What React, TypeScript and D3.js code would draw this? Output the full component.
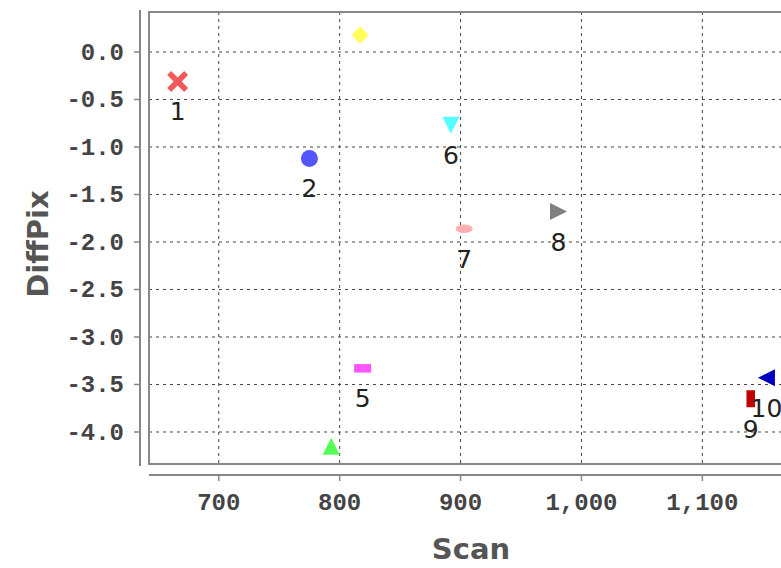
import React from "react";
import * as d3 from "d3";

const seriesLabels = ["1", "2", "3", "4", "5", "6", "7", "8", "9", "10"];
const scanValues = [666, 775, 793, 817, 819, 892, 903, 981, 1140, 1153];
const diffPixValues = [-0.31, -1.12, -4.15, 0.18, -3.33, -0.77, -1.86, -1.68, -3.65, -3.43];
const seriesColors = ["#F25A5A", "#5555FF", "#55FF55", "#FFFF55", "#FF55FF", "#55FFFF", "#FFAFAF", "#808080", "#C00000", "#0000C0"];
const seriesShapes = ["cross", "circle", "up", "diamond", "hrect", "down", "hellipse", "right", "vrect", "left"];
const xTicks = [700, 800, 900, 1000, 1100];
const yTicks = [0, -0.5, -1, -1.5, -2, -2.5, -3, -3.5, -4];

const W = 781;
const H = 568;
const PL = 149, PT = 12, PB = 464, PR = 787;

function shapePath(kind: string, s: number): string {
  const h = s / 2;
  switch (kind) {
    case "cross": {
      const p = d3.path();
      const a = 10.5, t = 4;
      const pts: [number, number][] = [
        [-a, -a + t], [-a + t, -a], [0, -t], [a - t, -a], [a, -a + t], [t, 0],
        [a, a - t], [a - t, a], [0, t], [-a + t, a], [-a, a - t], [-t, 0],
      ];
      pts.forEach((q, i) => (i ? p.lineTo(q[0], q[1]) : p.moveTo(q[0], q[1])));
      p.closePath();
      return p.toString();
    }
    case "circle":
      return d3.symbol(d3.symbolCircle, Math.PI * h * h)() as string;
    case "up":
      return `M0,${-h}L${h},${h}L${-h},${h}Z`;
    case "down":
      return `M0,${h}L${h},${-h}L${-h},${-h}Z`;
    case "right":
      return `M${h},0L${-h},${-h}L${-h},${h}Z`;
    case "left":
      return `M${-h},0L${h},${-h}L${h},${h}Z`;
    case "diamond":
      return `M0,${-h}L${h},0L0,${h}L${-h},0Z`;
    case "hrect":
      return `M${-h},${-h / 2}H${h}V${h / 2}H${-h}Z`;
    case "vrect":
      return `M${-h / 2},${-h}H${h / 2}V${h}H${-h / 2}Z`;
    case "hellipse": {
      const rx = h, ry = h / 2;
      return `M${-rx},0A${rx},${ry} 0 1,0 ${rx},0A${rx},${ry} 0 1,0 ${-rx},0Z`;
    }
  }
  return "";
}

export default function App() {
  const x = d3.scaleLinear().domain([642.3, 1170]).range([PL, PR]);
  const y = d3.scaleLinear().domain([0.421, -4.337]).range([PT, PB]);
  const fmtX = d3.format(",");
  const fmtY = (v: number) => d3.format(".1f")(v).replace("\u2212", "-");
  const tickFont = "'Liberation Mono', 'DejaVu Sans Mono', monospace";
  const labelFont = "'DejaVu Sans', sans-serif";

  return (
    <svg width={W} height={H} style={{ position: "absolute", left: 0, top: 0, background: "#fff" }}>
      <defs>
        <clipPath id="plotClip">
          <rect x={PL} y={PT} width={PR - PL} height={PB - PT} />
        </clipPath>
      </defs>
      <rect x={0} y={0} width={W} height={H} fill="#fff" />
      {/* gridlines */}
      <g stroke="#444" strokeWidth={1} strokeDasharray="3,4">
        {xTicks.map((t) => (
          <line key={"gx" + t} x1={x(t)} x2={x(t)} y1={PT} y2={PB} />
        ))}
        {yTicks.map((t) => (
          <line key={"gy" + t} x1={PL} x2={PR} y1={y(t)} y2={y(t)} />
        ))}
      </g>
      {/* points */}
      <g clipPath="url(#plotClip)">
        {scanValues.map((sv, i) => (
          <path
            key={"p" + i}
            d={shapePath(seriesShapes[i], 17)}
            transform={`translate(${x(sv)},${y(diffPixValues[i])})`}
            fill={seriesColors[i]}
          />
        ))}
        {scanValues.map((sv, i) => (
          <text
            key={"l" + i}
            x={x(sv)}
            y={diffPixValues[i] >= 0 ? y(diffPixValues[i]) - 22 : y(diffPixValues[i]) + 39}
            textAnchor="middle"
            fontFamily={labelFont}
            fontSize={25}
            fill="#222"
          >
            {seriesLabels[i]}
          </text>
        ))}
      </g>
      {/* plot border */}
      <rect x={PL} y={PT} width={PR - PL} height={PB - PT} fill="none" stroke="#888" strokeWidth={2} />
      {/* y axis */}
      <line x1={140} x2={140} y1={PT - 2} y2={PB + 2} stroke="#888" strokeWidth={2} />
      {yTicks.map((t) => (
        <g key={"yt" + t}>
          <line x1={134} x2={140} y1={y(t)} y2={y(t)} stroke="#888" strokeWidth={1.5} />
          <text
            x={124}
            y={y(t) + 8}
            textAnchor="end"
            fontFamily={tickFont}
            fontWeight="bold"
            fontSize={24}
            fill="#444"
          >
            {fmtY(t)}
          </text>
        </g>
      ))}
      {/* x axis */}
      <line x1={PL} x2={W} y1={475} y2={475} stroke="#888" strokeWidth={2} />
      {xTicks.map((t) => (
        <g key={"xt" + t}>
          <line x1={x(t)} x2={x(t)} y1={475} y2={481} stroke="#888" strokeWidth={1.5} />
          <text
            x={x(t)}
            y={510}
            textAnchor="middle"
            fontFamily={tickFont}
            fontWeight="bold"
            fontSize={24}
            fill="#444"
          >
            {fmtX(t)}
          </text>
        </g>
      ))}
      <text x={471} y={559} textAnchor="middle" fontFamily={labelFont} fontWeight="bold" fontSize={29} fill="#555">
        Scan
      </text>
      <text
        transform="translate(48,244) rotate(-90)"
        textAnchor="middle"
        fontFamily={labelFont}
        fontWeight="bold"
        fontSize={29}
        fill="#555"
      >
        DiffPix
      </text>
    </svg>
  );
}
